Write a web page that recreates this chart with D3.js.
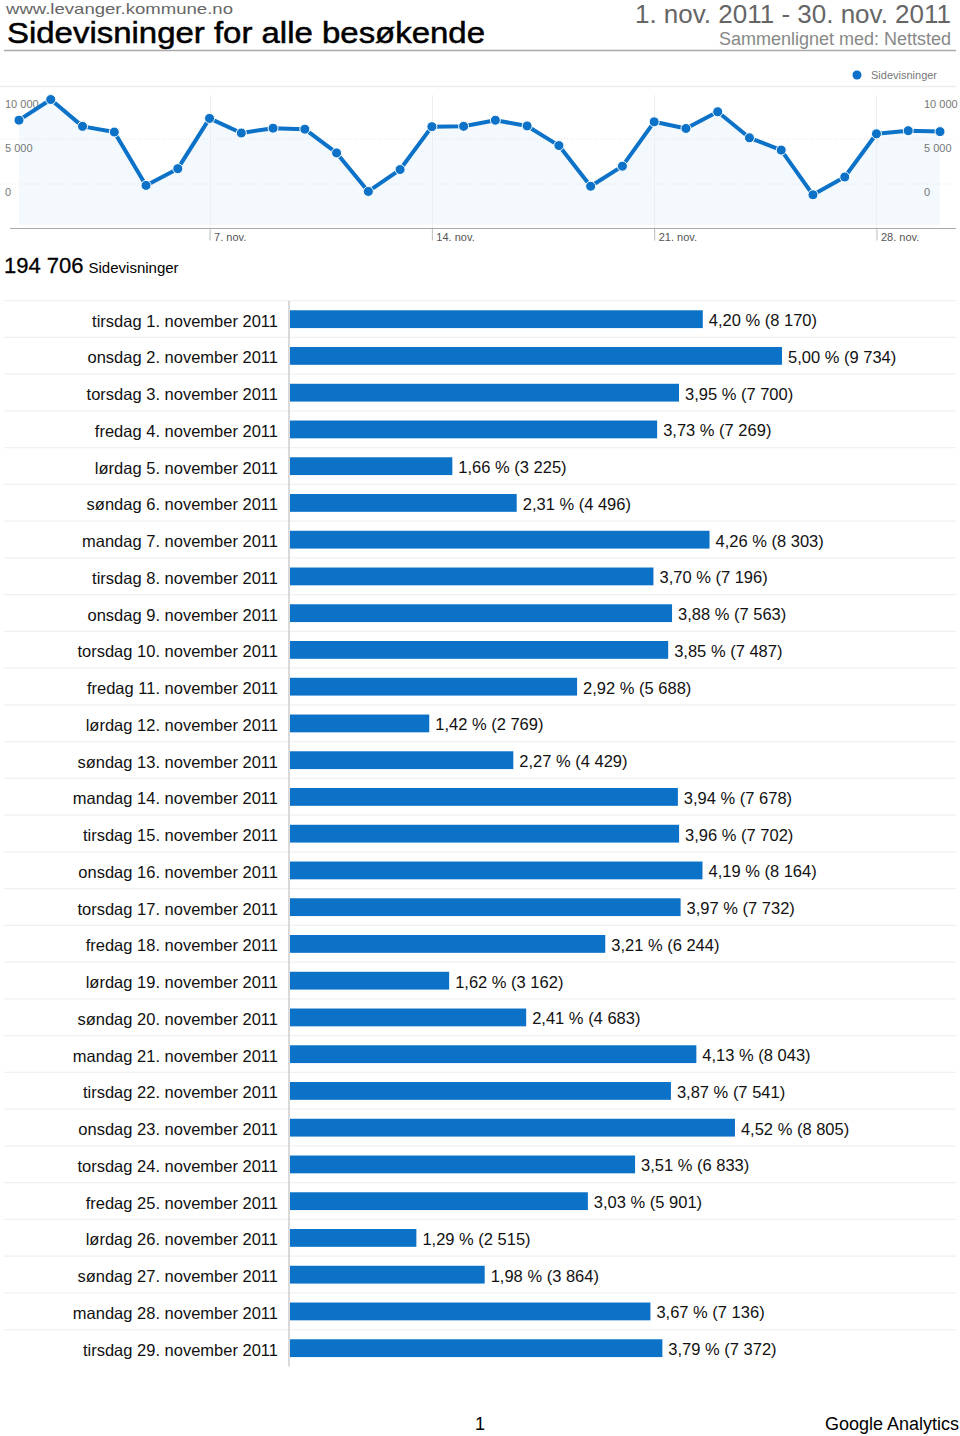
<!DOCTYPE html>
<html>
<head>
<meta charset="utf-8">
<script src="https://cdn.jsdelivr.net/npm/d3@7"></script>
<style>
  html, body { margin: 0; padding: 0; background: #fff; }
  svg { display: block; font-family: "Liberation Sans", Arial, Helvetica, sans-serif; }
</style>
</head>
<body>
<svg id="chart" width="960" height="1436"></svg>
<script>
// ---- Data ----
const days = d3.range(1, 31);
const weekdays = ["tirsdag","onsdag","torsdag","fredag","lørdag","søndag","mandag"];
const pageviews = [8170, 9734, 7700, 7269, 3225, 4496, 8303, 7196, 7563, 7487, 5688, 2769, 4429, 7678, 7702,
                   8164, 7732, 6244, 3162, 4683, 8043, 7541, 8805, 6833, 5901, 2515, 3864, 7136, 7372, 7302];
const percents = ["4,20","5,00","3,95","3,73","1,66","2,31","4,26","3,70","3,88","3,85","2,92","1,42","2,27","3,94","3,96",
                  "4,19","3,97","3,21","1,62","2,41","4,13","3,87","4,52","3,51","3,03","1,29","1,98","3,67","3,79"];
const yTickValues = [0, 5000, 10000];
const xTickDays = [7, 14, 21, 28];
const total = 194706;
const barCount = 29;

const blue = "#0b72c8";
const fmt = v => d3.format(",")(v).replace(/,/g, " ");

const svg = d3.select("#chart");

// ---- Header ----
svg.append("text").attr("x", 6).attr("y", 13.6).attr("font-size", 15).attr("fill", "#666")
  .attr("textLength", 227).attr("lengthAdjust", "spacingAndGlyphs")
  .text("www.levanger.kommune.no");
svg.append("text").attr("x", 7).attr("y", 43.2).attr("font-size", 29).attr("fill", "#000")
  .attr("stroke", "#000").attr("stroke-width", 0.5)
  .attr("textLength", 478).attr("lengthAdjust", "spacingAndGlyphs")
  .text("Sidevisninger for alle besøkende");
svg.append("text").attr("x", 951).attr("y", 23).attr("font-size", 26).attr("fill", "#666")
  .attr("text-anchor", "end").text("1. nov. 2011 - 30. nov. 2011");
svg.append("text").attr("x", 951).attr("y", 45).attr("font-size", 18).attr("fill", "#888")
  .attr("text-anchor", "end").text("Sammenlignet med: Nettsted");
svg.append("line").attr("x1", 4).attr("x2", 956).attr("y1", 50.5).attr("y2", 50.5)
  .attr("stroke", "#aaa").attr("stroke-width", 1.5);

// ---- Legend ----
svg.append("circle").attr("cx", 857).attr("cy", 75).attr("r", 4.5).attr("fill", blue);
svg.append("text").attr("x", 871).attr("y", 79).attr("font-size", 11).attr("fill", "#777").text("Sidevisninger");

// ---- Line chart ----
const x = d3.scaleLinear().domain([1, 30]).range([19, 940]);
const y = d3.scaleLinear().domain([0, 10000]).range([228, 96]);
const yLabel = d3.scaleLinear().domain([0, 10000]).range([192, 104]);

svg.append("line").attr("x1", 0).attr("x2", 956).attr("y1", 86.5).attr("y2", 86.5)
  .attr("stroke", "#eee").attr("stroke-width", 1.5);

const area = d3.area().x((d, i) => x(days[i])).y0(225).y1(d => y(d));
svg.append("path").datum(pageviews).attr("d", area).attr("fill", "#f4f9fd");

[139, 184].forEach(gy => {
  svg.append("line").attr("x1", 0).attr("x2", 956).attr("y1", gy).attr("y2", gy)
    .attr("stroke", "#e6e6e6").attr("stroke-dasharray", "1,2");
});

xTickDays.forEach(d => {
  svg.append("line").attr("x1", Math.round(x(d)) + 0.5).attr("x2", Math.round(x(d)) + 0.5)
    .attr("y1", 95).attr("y2", 228).attr("stroke", "#eee");
});

const gyl = svg.append("g").attr("transform", "translate(5,0)")
  .call(d3.axisRight(yLabel).tickValues(yTickValues).tickSize(0).tickPadding(0).tickFormat(fmt));
const gyr = svg.append("g").attr("transform", "translate(924,0)")
  .call(d3.axisRight(yLabel).tickValues(yTickValues).tickSize(0).tickPadding(0).tickFormat(fmt));
[gyl, gyr].forEach(g => {
  g.select(".domain").remove();
  g.selectAll("text").attr("font-size", 11).attr("fill", "#777").attr("font-family", "Liberation Sans, Arial, sans-serif");
});

const gx = svg.append("g").attr("transform", "translate(0,228.5)")
  .call(d3.axisBottom(x).tickValues(xTickDays).tickSize(12).tickFormat(d => d + ". nov."));
gx.select(".domain").remove();
svg.append("line").attr("x1", 10).attr("x2", 956).attr("y1", 228.5).attr("y2", 228.5).attr("stroke", "#aaa");
gx.selectAll(".tick line").attr("stroke", "#bbb");
gx.selectAll("text").attr("font-size", 11).attr("fill", "#555").attr("text-anchor", "start")
  .attr("dx", 4).attr("dy", -3).attr("font-family", "Liberation Sans, Arial, sans-serif");

const line = d3.line().x((d, i) => x(days[i])).y(d => y(d));
svg.append("path").datum(pageviews).attr("d", line).attr("fill", "none")
  .attr("stroke", blue).attr("stroke-width", 4).attr("stroke-linejoin", "round");
svg.append("g").selectAll("circle").data(pageviews).join("circle")
  .attr("cx", (d, i) => x(days[i])).attr("cy", d => y(d)).attr("r", 5)
  .attr("fill", blue).attr("stroke", "#fff").attr("stroke-width", 1);

// ---- Total ----
const tot = svg.append("text").attr("x", 4).attr("y", 273).attr("fill", "#000");
tot.append("tspan").attr("font-size", 22).attr("stroke", "#000").attr("stroke-width", 0.3).text(fmt(total));
tot.append("tspan").attr("font-size", 15).attr("dx", 5).text("Sidevisninger");

// ---- Bar chart ----
const barData = d3.range(barCount).map(i => ({
  label: weekdays[i % 7] + " " + days[i] + ". november 2011",
  value: pageviews[i],
  pct: percents[i]
}));
const bx = d3.scaleLinear().domain([0, 9734]).range([289, 782]);
const by = d3.scaleBand().domain(barData.map(d => d.label)).range([300.7, 300.7 + 36.75 * barCount]);

svg.append("g").selectAll("line").data(barData).join("line")
  .attr("x1", 4).attr("x2", 956)
  .attr("y1", d => by(d.label)).attr("y2", d => by(d.label))
  .attr("stroke", "#eef0f2").attr("stroke-width", 1.2);

const gb = svg.append("g").attr("transform", "translate(289,0)")
  .call(d3.axisLeft(by).tickSize(0).tickPadding(11));
gb.select(".domain").attr("stroke", "#ccc").attr("stroke-width", 1.5)
  .attr("d", `M0,${300.7}V${300.7 + 36.75 * barCount}`);
gb.selectAll("text").attr("font-size", 16.5).attr("fill", "#111")
  .attr("font-family", "Liberation Sans, Arial, sans-serif").attr("dy", "0.45em");

svg.append("g").selectAll("rect").data(barData).join("rect")
  .attr("x", bx(0) + 1).attr("y", d => by(d.label) + by.bandwidth() / 2 - 8.8)
  .attr("width", d => bx(d.value) - bx(0) - 1).attr("height", 17.8)
  .attr("fill", blue);

svg.append("g").selectAll("text").data(barData).join("text")
  .attr("x", d => bx(d.value) + 6).attr("y", d => by(d.label) + by.bandwidth() / 2 + 7)
  .attr("font-size", 16.5).attr("fill", "#111")
  .text(d => `${d.pct} % (${fmt(d.value)})`);

// ---- Footer ----
svg.append("text").attr("x", 480).attr("y", 1430).attr("font-size", 18).attr("fill", "#000")
  .attr("text-anchor", "middle").text("1");
svg.append("text").attr("x", 959).attr("y", 1430).attr("font-size", 18).attr("fill", "#000")
  .attr("text-anchor", "end").text("Google Analytics");
</script>
</body>
</html>
